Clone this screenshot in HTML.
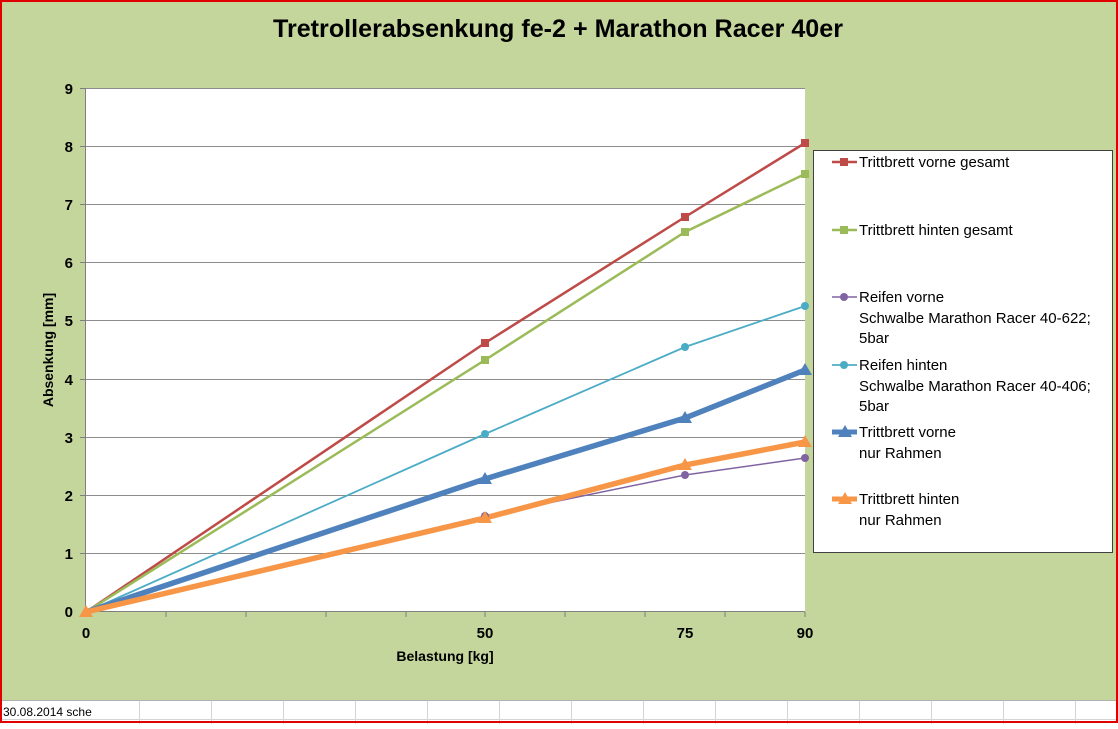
<!DOCTYPE html>
<html><head><meta charset="utf-8"><style>
body{margin:0;width:1118px;height:724px;overflow:hidden;background:#fff}
</style></head><body>
<svg width="1118" height="724" xmlns="http://www.w3.org/2000/svg" font-family="Liberation Sans, sans-serif">
<rect x="0" y="0" width="1118" height="700" fill="#c4d69c"/>
<line x1="0" y1="700.5" x2="1118" y2="700.5" stroke="#b0b0b0"/>
<line x1="0" y1="719.5" x2="1118" y2="719.5" stroke="#d4d4d4"/>
<g stroke="#d4d4d4"><line x1="139.5" y1="701" x2="139.5" y2="724"/><line x1="211.5" y1="701" x2="211.5" y2="724"/><line x1="283.5" y1="701" x2="283.5" y2="724"/><line x1="355.5" y1="701" x2="355.5" y2="724"/><line x1="427.5" y1="701" x2="427.5" y2="724"/><line x1="499.5" y1="701" x2="499.5" y2="724"/><line x1="571.5" y1="701" x2="571.5" y2="724"/><line x1="643.5" y1="701" x2="643.5" y2="724"/><line x1="715.5" y1="701" x2="715.5" y2="724"/><line x1="787.5" y1="701" x2="787.5" y2="724"/><line x1="859.5" y1="701" x2="859.5" y2="724"/><line x1="931.5" y1="701" x2="931.5" y2="724"/><line x1="1003.5" y1="701" x2="1003.5" y2="724"/><line x1="1075.5" y1="701" x2="1075.5" y2="724"/></g>
<text x="3" y="716" font-size="12">30.08.2014 sche</text>
<rect x="1" y="1" width="1116" height="721" fill="none" stroke="#e00000" stroke-width="2"/>
<text x="558" y="37" font-size="25" font-weight="bold" text-anchor="middle" textLength="570" lengthAdjust="spacingAndGlyphs">Tretrollerabsenkung fe-2 + Marathon Racer 40er</text>
<rect x="86" y="88" width="719" height="524" fill="#fff"/>
<g stroke="#8c8c8c" stroke-width="1">
<line x1="86" y1="88.5" x2="805" y2="88.5"/><line x1="86" y1="146.5" x2="805" y2="146.5"/><line x1="86" y1="204.5" x2="805" y2="204.5"/><line x1="86" y1="262.5" x2="805" y2="262.5"/><line x1="86" y1="320.5" x2="805" y2="320.5"/><line x1="86" y1="379.5" x2="805" y2="379.5"/><line x1="86" y1="437.5" x2="805" y2="437.5"/><line x1="86" y1="495.5" x2="805" y2="495.5"/><line x1="86" y1="553.5" x2="805" y2="553.5"/>
</g>
<g stroke="#7f7f7f"><line x1="85.5" y1="88" x2="85.5" y2="612"/><line x1="86" y1="611.5" x2="805" y2="611.5"/>
<line x1="166" y1="612" x2="166" y2="617"/><line x1="246" y1="612" x2="246" y2="617"/><line x1="326" y1="612" x2="326" y2="617"/><line x1="406" y1="612" x2="406" y2="617"/><line x1="485" y1="612" x2="485" y2="617"/><line x1="565" y1="612" x2="565" y2="617"/><line x1="645" y1="612" x2="645" y2="617"/><line x1="725" y1="612" x2="725" y2="617"/><line x1="805" y1="612" x2="805" y2="617"/>
<line x1="80" y1="88.5" x2="86" y2="88.5"/><line x1="80" y1="146.5" x2="86" y2="146.5"/><line x1="80" y1="204.5" x2="86" y2="204.5"/><line x1="80" y1="262.5" x2="86" y2="262.5"/><line x1="80" y1="320.5" x2="86" y2="320.5"/><line x1="80" y1="379.5" x2="86" y2="379.5"/><line x1="80" y1="437.5" x2="86" y2="437.5"/><line x1="80" y1="495.5" x2="86" y2="495.5"/><line x1="80" y1="553.5" x2="86" y2="553.5"/>
</g>
<g font-size="15" font-weight="bold" text-anchor="end">
<text x="73" y="94">9</text><text x="73" y="152">8</text><text x="73" y="210">7</text><text x="73" y="268">6</text><text x="73" y="326">5</text><text x="73" y="385">4</text><text x="73" y="443">3</text><text x="73" y="501">2</text><text x="73" y="559">1</text><text x="73" y="617">0</text>
</g>
<g font-size="15" font-weight="bold" text-anchor="middle">
<text x="86" y="638">0</text><text x="485" y="638">50</text><text x="685" y="638">75</text><text x="805" y="638">90</text>
</g>
<text x="445" y="661" font-size="14" font-weight="bold" text-anchor="middle">Belastung [kg]</text>
<text transform="translate(53,350) rotate(-90)" font-size="14" font-weight="bold" text-anchor="middle">Absenkung [mm]</text>
<polyline points="86,612 485,343 685,217 805,143" fill="none" stroke="#be4b48" stroke-width="2.5"/>
<polyline points="86,612 485,360 685,232 805,174" fill="none" stroke="#9bbb59" stroke-width="2.5"/>
<polyline points="86,612 485,434 685,347 805,306" fill="none" stroke="#4bacc6" stroke-width="1.8"/>
<polyline points="86,612 485,516 685,475 805,458" fill="none" stroke="#8064a2" stroke-width="1.5"/>
<polyline points="86,612 485,479 685,418 805,370" fill="none" stroke="#4f81bd" stroke-width="5.5"/>
<polyline points="86,612 485,518 685,465 805,442" fill="none" stroke="#f79646" stroke-width="5.5"/>
<g fill="#be4b48"><rect x="481" y="339" width="8" height="8"/><rect x="681" y="213" width="8" height="8"/><rect x="801" y="139" width="8" height="8"/></g>
<g fill="#9bbb59"><rect x="481" y="356" width="8" height="8"/><rect x="681" y="228" width="8" height="8"/><rect x="801" y="170" width="8" height="8"/></g>
<g fill="#4bacc6"><circle cx="485" cy="434" r="4"/><circle cx="685" cy="347" r="4"/><circle cx="805" cy="306" r="4"/></g>
<g fill="#8064a2"><circle cx="485" cy="516" r="4"/><circle cx="685" cy="475" r="4"/><circle cx="805" cy="458" r="4"/></g>
<g fill="#4f81bd"><polygon points="485,472 478,484 492,484"/><polygon points="685,411 678,423 692,423"/><polygon points="805,363 798,375 812,375"/></g>
<g fill="#f79646"><polygon points="485,511 478,523 492,523"/><polygon points="685,458 678,470 692,470"/><polygon points="805,435 798,447 812,447"/><polygon points="86,605 79,617 93,617"/></g>
<rect x="813.5" y="150.5" width="299" height="402" fill="#fff" stroke="#404040"/>
<g font-size="15">
<line x1="832" y1="162" x2="857" y2="162" stroke="#be4b48" stroke-width="2.5"/><rect x="840" y="158" width="8" height="8" fill="#be4b48"/>
<text x="859" y="167">Trittbrett vorne gesamt</text>
<line x1="832" y1="230" x2="857" y2="230" stroke="#9bbb59" stroke-width="2.5"/><rect x="840" y="226" width="8" height="8" fill="#9bbb59"/>
<text x="859" y="235">Trittbrett hinten gesamt</text>
<line x1="832" y1="297" x2="857" y2="297" stroke="#8064a2" stroke-width="1.5"/><circle cx="844" cy="297" r="4" fill="#8064a2"/>
<text x="859" y="302">Reifen vorne</text><text x="859" y="323">Schwalbe Marathon Racer 40-622;</text><text x="859" y="343">5bar</text>
<line x1="832" y1="365" x2="857" y2="365" stroke="#4bacc6" stroke-width="1.8"/><circle cx="844" cy="365" r="4" fill="#4bacc6"/>
<text x="859" y="370">Reifen hinten</text><text x="859" y="391">Schwalbe Marathon Racer 40-406;</text><text x="859" y="411">5bar</text>
<line x1="832" y1="432" x2="857" y2="432" stroke="#4f81bd" stroke-width="5"/><polygon points="845,425 838,437 852,437" fill="#4f81bd"/>
<text x="859" y="437">Trittbrett vorne</text><text x="859" y="458">nur Rahmen</text>
<line x1="832" y1="499" x2="857" y2="499" stroke="#f79646" stroke-width="5"/><polygon points="845,492 838,504 852,504" fill="#f79646"/>
<text x="859" y="504">Trittbrett hinten</text><text x="859" y="525">nur Rahmen</text>
</g>
</svg>
</body></html>
